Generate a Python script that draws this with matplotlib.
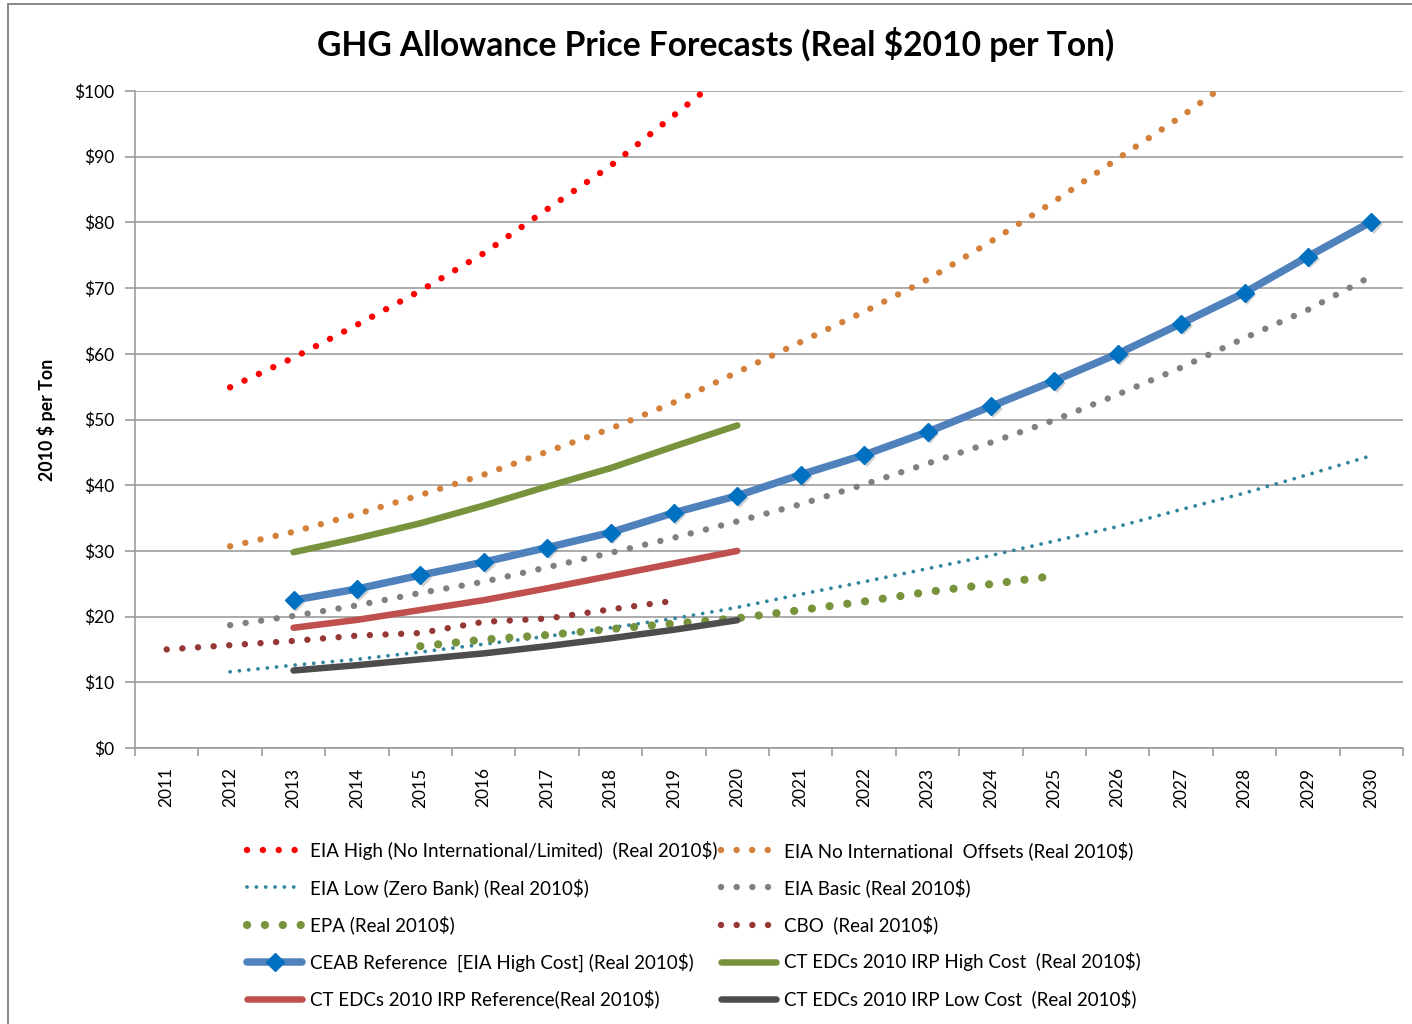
import numpy as np
import matplotlib
matplotlib.use("Agg")
import matplotlib.pyplot as plt
from matplotlib.patches import Rectangle
import matplotlib.patheffects as pe

nan = np.nan
years = [str(y) for y in range(2011, 2031)]

eia_high = [nan, 54.9, 59.4, 64.4, 69.6, 75.3, 82.0, 88.6, 96.3, 104.0,
            nan, nan, nan, nan, nan, nan, nan, nan, nan, nan]
eia_noint = [nan, 30.7, 32.9, 35.6, 38.5, 41.6, 45.1, 48.6, 52.6, 57.2,
             61.8, 66.4, 71.3, 77.1, 83.2, 89.7, 96.1, 103.0, nan, nan]
eia_low = [nan, 11.6, 12.6, 13.5, 14.6, 15.8, 17.0, 18.3, 19.7, 21.4,
           23.4, 25.3, 27.3, 29.3, 31.5, 33.7, 36.3, 38.8, 41.6, 44.5]
eia_basic = [nan, 18.7, 20.1, 21.7, 23.6, 25.3, 27.5, 29.7, 32.0, 34.5,
             37.1, 40.1, 43.3, 46.5, 49.9, 53.8, 57.9, 62.4, 66.7, 71.8]
epa = [nan, nan, nan, nan, 15.5, 16.5, 17.2, 18.1, 18.95, 19.75,
       21.0, 22.3, 23.75, 24.95, 26.2, nan, nan, nan, nan, nan]
cbo = [15.0, 15.65, 16.3, 17.1, 17.5, 19.2, 19.7, 21.1, 22.4, nan,
       nan, nan, nan, nan, nan, nan, nan, nan, nan, nan]
ceab = [nan, nan, 22.5, 24.2, 26.3, 28.3, 30.5, 32.8, 35.8, 38.4,
        41.6, 44.6, 48.1, 52.0, 55.9, 60.0, 64.6, 69.3, 74.8, 80.1]
ct_high = [nan, nan, 29.8, 31.9, 34.2, 36.9, 39.8, 42.6, 45.9, 49.1,
           nan, nan, nan, nan, nan, nan, nan, nan, nan, nan]
ct_ref = [nan, nan, 18.3, 19.5, 21.0, 22.5, 24.3, 26.2, 28.1, 30.0,
          nan, nan, nan, nan, nan, nan, nan, nan, nan, nan]
ct_low = [nan, nan, 11.8, 12.6, 13.5, 14.4, 15.5, 16.7, 18.0, 19.45,
          nan, nan, nan, nan, nan, nan, nan, nan, nan, nan]

labels = {
    "eia_high": "EIA High (No International/Limited)  (Real 2010$)",
    "eia_noint": "EIA No International  Offsets (Real 2010$)",
    "eia_low": "EIA Low (Zero Bank) (Real 2010$)",
    "eia_basic": "EIA Basic (Real 2010$)",
    "epa": "EPA (Real 2010$)",
    "cbo": "CBO  (Real 2010$)",
    "ceab": "CEAB Reference  [EIA High Cost] (Real 2010$)",
    "ct_high": "CT EDCs 2010 IRP High Cost  (Real 2010$)",
    "ct_ref": "CT EDCs 2010 IRP Reference(Real 2010$)",
    "ct_low": "CT EDCs 2010 IRP Low Cost  (Real 2010$)",
}

FONT = "Lato"
plt.rcParams["font.family"] = [FONT, "DejaVu Sans"]

W, H = 1412, 1024
fig = plt.figure(figsize=(W / 100, H / 100), dpi=100)
px = 72 / 100.0  # points per pixel

L, R, T, B = 135, 1403, 91, 748
ax = fig.add_axes([L / W, 1 - B / H, (R - L) / W, (B - T) / H])

x = np.arange(len(years))

def dotted(vals, color, dot_px, period_px, key):
    lw = dot_px * px
    gap = period_px / dot_px
    ln, = ax.plot(x, np.array(vals, float), color=color, lw=lw,
                  linestyle=(0, (0.01, gap)), dash_capstyle="round",
                  solid_capstyle="round", label=labels[key], zorder=3)
    return ln

def solid(vals, color, w_px, key, **kw):
    ln, = ax.plot(x, np.array(vals, float), color=color, lw=w_px * px,
                  solid_capstyle="round", label=labels[key], zorder=4, **kw)
    return ln

h_high = dotted(eia_high, "#FF0000", 6.4, 15.8, "eia_high")
h_noint = dotted(eia_noint, "#D3803A", 6.4, 15.5, "eia_noint")
h_low = dotted(eia_low, "#31859C", 3.8, 9.3, "eia_low")
h_basic = dotted(eia_basic, "#808080", 6.4, 15.6, "eia_basic")
h_epa = dotted(epa, "#77933C", 8.2, 17.8, "epa")
h_cbo = dotted(cbo, "#953735", 6.4, 15.6, "cbo")

h_ceab, = ax.plot(x, np.array(ceab, float), color="#4F81BD", lw=7.5 * px,
                  solid_capstyle="round", marker="D", ms=9.5,
                  markerfacecolor="#0070C0", markeredgecolor="#0070C0",
                  label=labels["ceab"], zorder=5)
# soft shadow under the diamond markers
ax.plot(x, np.array(ceab, float), ls="none", marker="D", ms=9.5,
        markerfacecolor="#000000", markeredgecolor="none", alpha=0.0,
        zorder=4.9,
        path_effects=[pe.SimplePatchShadow(offset=(1.8, -1.8), alpha=0.28,
                                           shadow_rgbFace="#555555")])
h_cthigh = solid(ct_high, "#77933C", 6.5, "ct_high")
h_ctref = solid(ct_ref, "#C0504D", 6.5, "ct_ref")
h_ctlow = solid(ct_low, "#4D4D4D", 6.5, "ct_low")

ax.set_xlim(-0.5, len(years) - 0.5)
ax.set_ylim(0, 100)
ax.set_yticks(np.arange(0, 101, 10))
ax.set_yticklabels(["$%d" % v for v in range(0, 101, 10)])
ax.set_xticks(x)
ax.set_xticklabels(years, rotation=90, va="top", ha="center")
ax.set_xticks(np.arange(-0.5, len(years)), minor=True)

gc = "#999999"
ax.grid(axis="y", color=gc, lw=1.6 * px, zorder=0)
ax.set_axisbelow(True)
for s in ["top", "right"]:
    ax.spines[s].set_visible(False)
for s in ["left", "bottom"]:
    ax.spines[s].set_color(gc)
    ax.spines[s].set_linewidth(1.6 * px)

ax.tick_params(axis="x", which="major", length=0, pad=14, labelsize=12.5,
               labelcolor="black")
ax.tick_params(axis="x", which="minor", length=6 * px * 1.4, color=gc,
               width=1.6 * px, direction="out")
ax.tick_params(axis="y", which="major", length=7 * px * 1.4, color=gc,
               width=1.6 * px, pad=8, labelsize=12.5, labelcolor="black")

ax.set_ylabel("2010 $ per Ton", fontsize=12.8, fontweight="bold")
ax.yaxis.set_label_coords((56 - L) / (R - L), 0.5)

fig.text(716 / W, 1 - 44 / H, "GHG Allowance Price Forecasts (Real $2010 per Ton)",
         ha="center", va="center", fontsize=24.2, fontweight="bold")

# chart frame
fig.patches.append(Rectangle((8 / W, -0.1), 1.2, 1.1 - 4 / H,
                             transform=fig.transFigure, fill=False,
                             edgecolor="#8C8C8C", lw=2 * px))

# legend (column-major order for two columns)
hs = [h_high, h_low, h_epa, h_ceab, h_ctref,
      h_noint, h_basic, h_cbo, h_cthigh, h_ctlow]
fs = 13.5
leg = fig.legend(hs, [h.get_label() for h in hs], ncol=2, loc="upper left",
                 bbox_to_anchor=(247 / W, 1 - 841 / H), frameon=False,
                 fontsize=fs, handlelength=2.95, handletextpad=0.42,
                 columnspacing=0.15, labelspacing=0.97, borderpad=0,
                 borderaxespad=0, numpoints=1)

fig.savefig("out.png", dpi=100)
